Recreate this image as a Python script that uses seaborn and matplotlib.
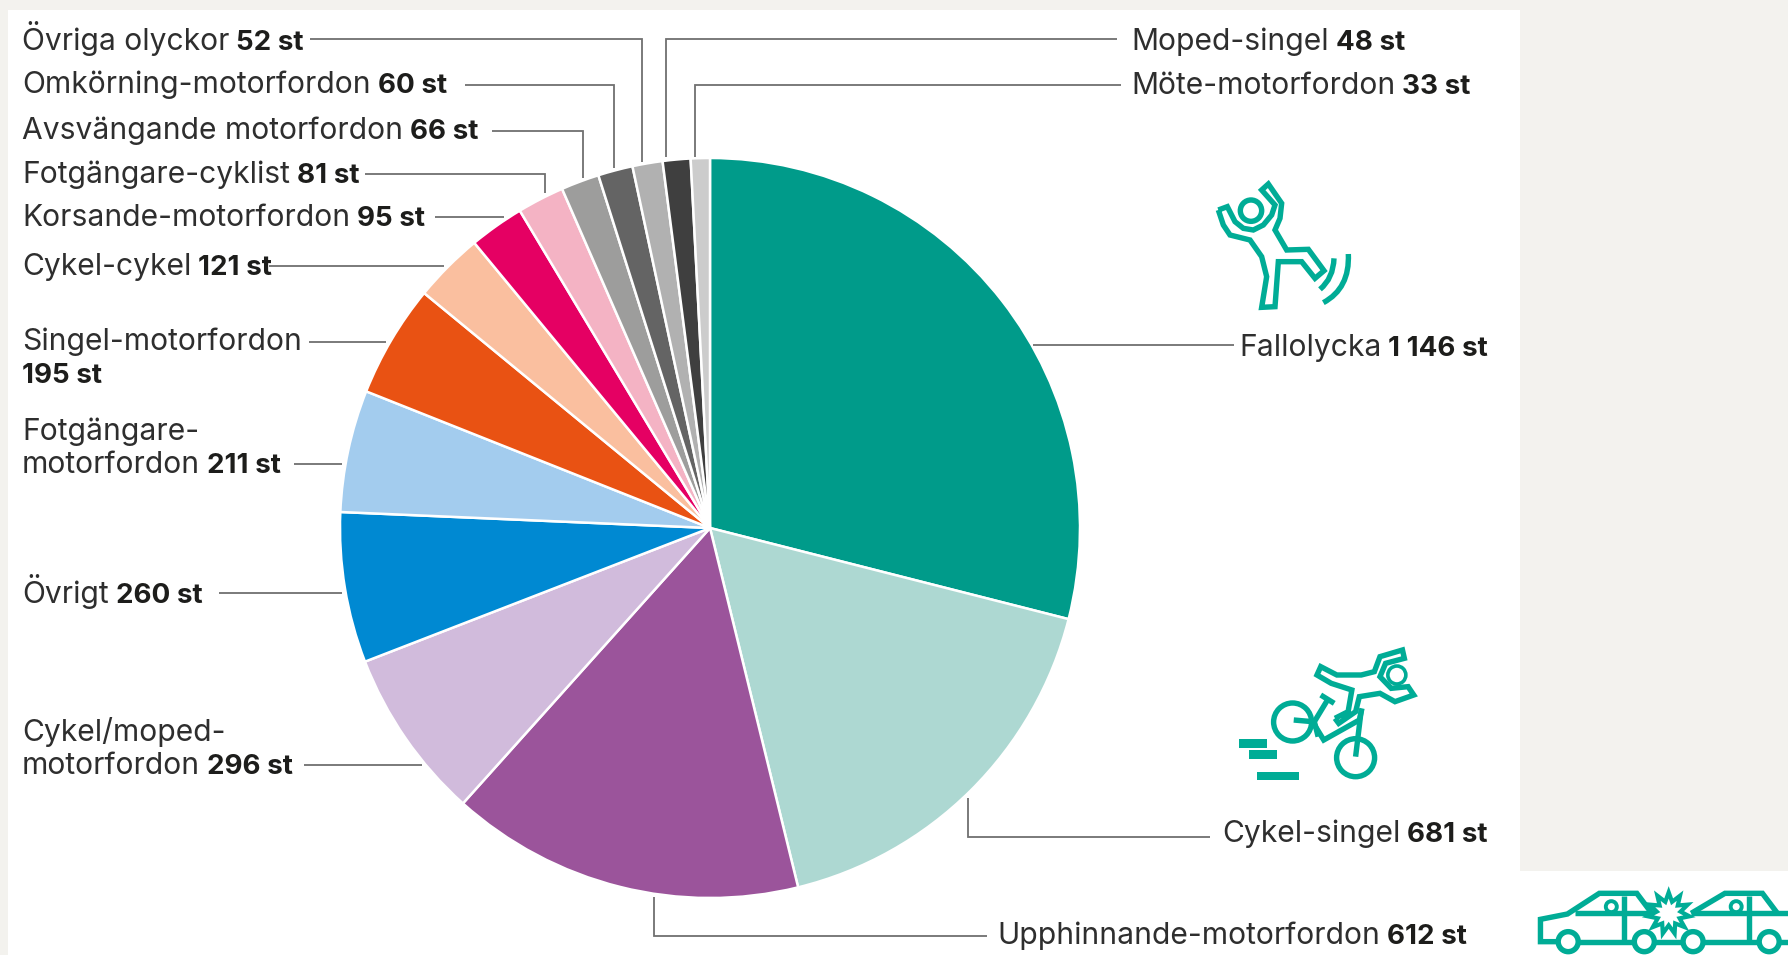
import numpy as np
import matplotlib
matplotlib.use("Agg")
import matplotlib.pyplot as plt
from matplotlib.patches import Rectangle, Circle, Polygon, PathPatch
from matplotlib.path import Path
import seaborn as sns

# ------------------------------------------------------------
# data
# ------------------------------------------------------------
categories = ["Fallolycka", "Cykel-singel", "Upphinnande-motorfordon",
              "Cykel/moped-\nmotorfordon", "Övrigt", "Fotgängare-\nmotorfordon",
              "Singel-motorfordon\n", "Cykel-cykel", "Korsande-motorfordon",
              "Fotgängare-cyklist", "Avsvängande motorfordon",
              "Omkörning-motorfordon", "Övriga olyckor", "Moped-singel",
              "Möte-motorfordon"]
counts = [1146, 681, 612, 296, 260, 211, 195, 121, 95, 81, 66, 60, 52, 48, 33]
slice_colors = ["#009B8A", "#ADD8D2", "#9B549B", "#D1BBDC", "#0089D2", "#A3CCEE",
                "#E95213", "#FABF9F", "#E50063", "#F4B3C4", "#9D9D9C", "#646464",
                "#B1B1B1", "#3F3F3F", "#CCCCCC"]

# layout in pixels of the 1788x955 picture, same order as categories
label_x = [1239, 1222, 997, 22, 22, 22, 22, 22, 22, 22, 22, 22, 22, 1131, 1131]
label_base = [356, 842, 944, 741, 603, 440, 350, 275, 226, 183, 139, 93, 50, 50, 94]
leaders = [
    [(1033, 345), (1234, 345)],
    [(968, 798), (968, 837), (1210, 837)],
    [(654, 897), (654, 936), (987, 936)],
    [(304, 765), (422, 765)],
    [(219, 593), (342, 593)],
    [(294, 464), (342, 464)],
    [(309, 342), (386, 342)],
    [(269, 266), (444, 266)],
    [(435, 217), (504, 217)],
    [(365, 174), (545, 174), (545, 193)],
    [(492, 131), (583, 131), (583, 178)],
    [(465, 85), (614, 85), (614, 168)],
    [(310, 39), (642, 39), (642, 162)],
    [(666, 157), (666, 39), (1117, 39)],
    [(695, 157), (695, 85), (1121, 85)],
]

W, H = 1788, 955
CX, CY, R = 710, 528, 370
PANEL = "#F3F2EE"
ICON = "#00AC96"
TXT = "#2E2E2E"
BOLD = "#1D1D1B"
LINE = "#707070"
FS = 21.6
FS_BOLD = 20.0
LW_ICON = 3.9

sns.set_theme(style="white")
plt.rcParams["font.family"] = ["Inter", "DejaVu Sans"]

fig = plt.figure(figsize=(W / 100, H / 100), dpi=100)
fig.patch.set_facecolor("white")

ax = fig.add_axes([0, 0, 1, 1])
ax.set_xlim(0, W)
ax.set_ylim(H, 0)
ax.axis("off")

# background bands
ax.add_patch(Rectangle((0, 0), W, 10, color=PANEL, lw=0))
ax.add_patch(Rectangle((0, 0), 8, H, color=PANEL, lw=0))
ax.add_patch(Rectangle((1520, 0), W - 1520, 871, color=PANEL, lw=0))

# ------------------------------------------------------------
# pie
# ------------------------------------------------------------
ax_pie = fig.add_axes([(CX - R) / W, (H - CY - R) / H, 2 * R / W, 2 * R / H])
ax_pie.pie(counts, colors=sns.color_palette(slice_colors), startangle=90, counterclock=False,
           radius=1, wedgeprops={"edgecolor": "white", "linewidth": 1.8})
ax_pie.set_xlim(-1, 1)
ax_pie.set_ylim(-1, 1)
ax_pie.set_zorder(1)

ax_top = fig.add_axes([0, 0, 1, 1], sharex=ax, sharey=ax)
ax_top.axis("off")
ax_top.patch.set_alpha(0)
ax_top.set_zorder(2)

# ------------------------------------------------------------
# labels and leader lines
# ------------------------------------------------------------
renderer = fig.canvas.get_renderer()
for name, n, x, y, path in zip(categories, counts, label_x, label_base, leaders):
    xs, ys = zip(*path)
    ax_top.plot(xs, ys, color=LINE, lw=1.3, solid_joinstyle="miter", solid_capstyle="butt")
    rows = name.split("\n")
    for row in rows[:-1]:
        ax_top.text(x, y, row, fontsize=FS, color=TXT, va="baseline", ha="left")
        y += 32.5
    end = x
    if rows[-1]:
        t = ax_top.text(x, y, rows[-1], fontsize=FS, color=TXT, va="baseline", ha="left")
        end = t.get_window_extent(renderer).x1 + 7
    value = f"{n:,}".replace(",", " ") + " st"
    ax_top.text(end, y, value, fontsize=FS_BOLD, color=BOLD, fontweight="bold", va="baseline", ha="left")


# ------------------------------------------------------------
# icons, drawn from outlines read in zoomed pixels
# ------------------------------------------------------------
def zoomed(ox, oy, sx, sy):
    def f(pts):
        return [(ox + a / sx, oy + b / sy) for a, b in pts]
    return f


def stroke(pts, closed=False, lw=LW_ICON):
    if closed:
        pts = list(pts) + [pts[0]]
    xs, ys = zip(*pts)
    ax_top.plot(xs, ys, color=ICON, lw=lw, solid_joinstyle="miter", solid_capstyle="butt")


def ring(c, r, lw=LW_ICON, fill="none"):
    ax_top.add_patch(Circle(c, r, fill=fill != "none", facecolor=fill, edgecolor=ICON, lw=lw))


def arc(p0, p1, p2):
    ax_top.add_patch(PathPatch(Path([p0, p1, p2], [Path.MOVETO, Path.CURVE3, Path.CURVE3]),
                               fill=False, edgecolor=ICON, lw=LW_ICON))


# person falling
z = zoomed(1150, 150, 3, 3)
stroke(z([(205, 180), (232, 170), (255, 215), (280, 235), (310, 240), (340, 225), (365, 195),
          (375, 165), (335, 120), (355, 102), (395, 160), (390, 205), (375, 240), (410, 300),
          (475, 298), (522, 362), (495, 385), (455, 335), (385, 335), (375, 470), (335, 472),
          (350, 380), (335, 320), (300, 270), (240, 255), (220, 225)]), closed=True)
ring(z([(303, 182)])[0], 32 / 3)
p = z([(552, 325), (550, 385), (510, 418)])
arc(*p)
p = z([(595, 312), (600, 415), (520, 458)])
arc(*p)

# cyclist
z = zoomed(1200, 640, 2.667, 3)
ring((1292.6, 722), 19)
ring((1355.6, 757.7), 19)
for a, b, c, d in [(105, 298, 180, 323), (132, 329, 206, 358), (153, 395, 265, 420)]:
    (x0, y0), (x1, y1) = z([(a, b), (c, d)])
    ax_top.add_patch(Rectangle((x0, y0), x1 - x0, y1 - y0, color=ICON, lw=0))
stroke(z([(250, 240), (300, 245), (330, 300), (425, 240), (432, 205)]))
stroke(z([(322, 165), (358, 190)]))
stroke(z([(340, 180), (305, 245), (315, 290)]))
stroke(z([(430, 210), (415, 350)]))
stroke(z([(360, 235), (395, 215), (405, 150), (350, 130), (312, 105), (322, 80), (365, 105),
          (430, 105), (465, 95), (480, 50), (540, 30), (545, 55), (495, 70), (480, 110),
          (510, 145), (555, 140), (570, 165), (520, 185), (480, 160), (425, 170), (415, 215),
          (370, 250), (360, 235)]))
ring(z([(525, 105)])[0], 9, lw=2.6)

# two cars crashing
z = zoomed(1200, 640, 2.667, 3)
stroke(z([(955, 905), (908, 905), (908, 838), (980, 822), (1065, 760), (1165, 760), (1205, 820)]))
stroke(z([(1000, 820), (1205, 820)]))
stroke(z([(1132, 768), (1132, 905)]))
stroke(z([(1010, 905), (1155, 905)]))
stroke(z([(1212, 905), (1285, 905)]))
stroke(z([(1345, 905), (1490, 905)]))
stroke(z([(1545, 905), (1568, 905)]))
stroke(z([(1310, 820), (1400, 760), (1500, 760), (1540, 820)]))
stroke(z([(1310, 820), (1568, 820)]))
stroke(z([(1465, 768), (1465, 905)]))
for c in [(982, 905), (1185, 905), (1315, 905), (1518, 905)]:
    ring(z([c])[0], 10, fill="white")
for c in [(1097, 800), (1430, 800)]:
    ring(z([c])[0], 5.5, lw=2.8, fill="white")
# burst between the cars
cb = z([(1250, 820)])[0]
burst = []
for i in range(22):
    rr = 21 if i % 2 == 0 else 12
    ang = np.pi * i / 11
    burst.append((cb[0] + rr * np.sin(ang), cb[1] - rr * np.cos(ang)))
ax_top.add_patch(Polygon(burst, closed=True, facecolor="white", edgecolor=ICON, lw=3, zorder=5))

fig.savefig("out.png", dpi=100)
